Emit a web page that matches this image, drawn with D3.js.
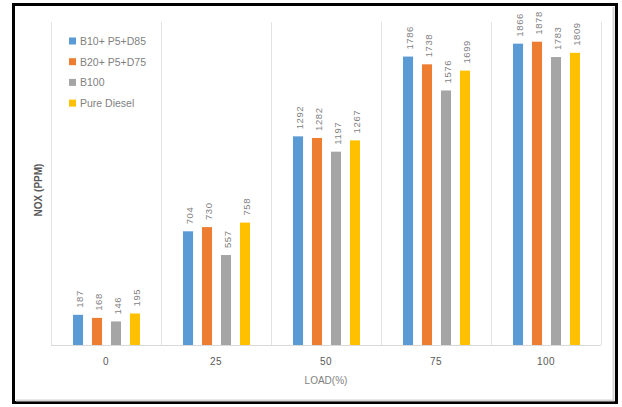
<!DOCTYPE html>
<html>
<head>
<meta charset="utf-8">
<script src="https://cdn.jsdelivr.net/npm/d3@7.9.0/dist/d3.min.js"></script>
<style>
  body { margin: 0; background: #fff; }
  svg { display: block; font-family: "Liberation Sans", Arial, sans-serif; }
</style>
</head>
<body>
<div id="chart"></div>
<script>
const loads = ['0', '25', '50', '75', '100'];
const seriesNames = ['B10+ P5+D85', 'B20+ P5+D75', 'B100', 'Pure Diesel'];
const colors = ['#5b9bd5', '#ed7d31', '#a5a5a5', '#ffc000'];

const b10 = [187, 704, 1292, 1786, 1866];
const b20 = [168, 730, 1282, 1738, 1878];
const b100 = [146, 557, 1197, 1576, 1783];
const diesel = [195, 758, 1267, 1699, 1809];

const allSeries = [b10, b20, b100, diesel];

const width = 622;
const height = 407;
const plot = { left: 51, right: 601, top: 22, bottom: 345 };
const groupWidth = 67;

const svg = d3.select('#chart')
  .append('svg')
  .attr('width', width)
  .attr('height', height);

// frame
svg.append('rect')
  .attr('x', 13.5).attr('y', 4.5)
  .attr('width', 603).attr('height', 398)
  .attr('fill', '#fff')
  .attr('stroke', '#000')
  .attr('stroke-width', 3);
svg.append('path')
  .attr('d', 'M16,400.5 H613.5 V7')
  .attr('fill', 'none')
  .attr('stroke', '#d4d4d4')
  .attr('stroke-width', 2);

const x0 = d3.scaleBand()
  .domain(loads)
  .range([plot.left, plot.right]);

const x1 = d3.scaleBand()
  .domain(d3.range(seriesNames.length))
  .range([0, groupWidth])
  .paddingInner(0.47);

const y = d3.scaleLinear()
  .domain([0, 2000])
  .range([plot.bottom, plot.top]);

// category separators
svg.append('g')
  .selectAll('line')
  .data(loads.concat(['end']))
  .join('line')
  .attr('x1', (d, i) => Math.round(plot.left + i * x0.step()) + 0.5)
  .attr('x2', (d, i) => Math.round(plot.left + i * x0.step()) + 0.5)
  .attr('y1', plot.top)
  .attr('y2', plot.bottom)
  .attr('stroke', '#e3e3e3');

svg.append('line')
  .attr('x1', plot.left).attr('x2', plot.right)
  .attr('y1', plot.bottom + 0.5).attr('y2', plot.bottom + 0.5)
  .attr('stroke', '#d9d9d9');

const groups = svg.append('g')
  .selectAll('g')
  .data(loads)
  .join('g')
  .attr('transform', (d) => `translate(${x0(d) + x0.bandwidth() / 2 - groupWidth / 2 + 0.5},0)`);

const cells = groups.selectAll('g')
  .data((d, gi) => allSeries.map((s, si) => ({ si, value: s[gi] })))
  .join('g');

cells.append('rect')
  .attr('x', (d) => x1(d.si))
  .attr('y', (d) => y(d.value))
  .attr('width', x1.bandwidth())
  .attr('height', (d) => y(0) - y(d.value))
  .attr('fill', (d) => colors[d.si]);

cells.append('text')
  .attr('transform', (d) => `translate(${x1(d.si) + x1.bandwidth() / 2 + 5},${y(d.value) - 7}) rotate(-90)`)
  .attr('font-size', 9.5)
  .attr('letter-spacing', 0.6)
  .attr('fill', '#7f7f7f')
  .text((d) => d.value);

// x tick labels
svg.append('g')
  .selectAll('text')
  .data(loads)
  .join('text')
  .attr('x', (d) => x0(d) + x0.bandwidth() / 2)
  .attr('y', 365)
  .attr('text-anchor', 'middle')
  .attr('font-size', 10)
  .attr('letter-spacing', 0.5)
  .attr('fill', '#595959')
  .text((d) => d);

svg.append('text')
  .attr('x', 326)
  .attr('y', 384)
  .attr('text-anchor', 'middle')
  .attr('font-size', 10)
  .attr('fill', '#7f7f7f')
  .text('LOAD(%)');

svg.append('text')
  .attr('transform', 'translate(42,190) rotate(-90)')
  .attr('text-anchor', 'middle')
  .attr('font-size', 10)
  .attr('font-weight', 'bold')
  .attr('fill', '#595959')
  .text('NOX (PPM)');

// legend
const legend = svg.append('g')
  .selectAll('g')
  .data(seriesNames)
  .join('g')
  .attr('transform', (d, i) => `translate(69,${41 + i * 20.7})`);

legend.append('rect')
  .attr('x', 0).attr('y', -3.5)
  .attr('width', 7).attr('height', 7)
  .attr('fill', (d, i) => colors[i]);

legend.append('text')
  .attr('x', 11)
  .attr('y', 4)
  .attr('font-size', 10.5)
  .attr('fill', '#7f7f7f')
  .text((d) => d);
</script>
</body>
</html>
